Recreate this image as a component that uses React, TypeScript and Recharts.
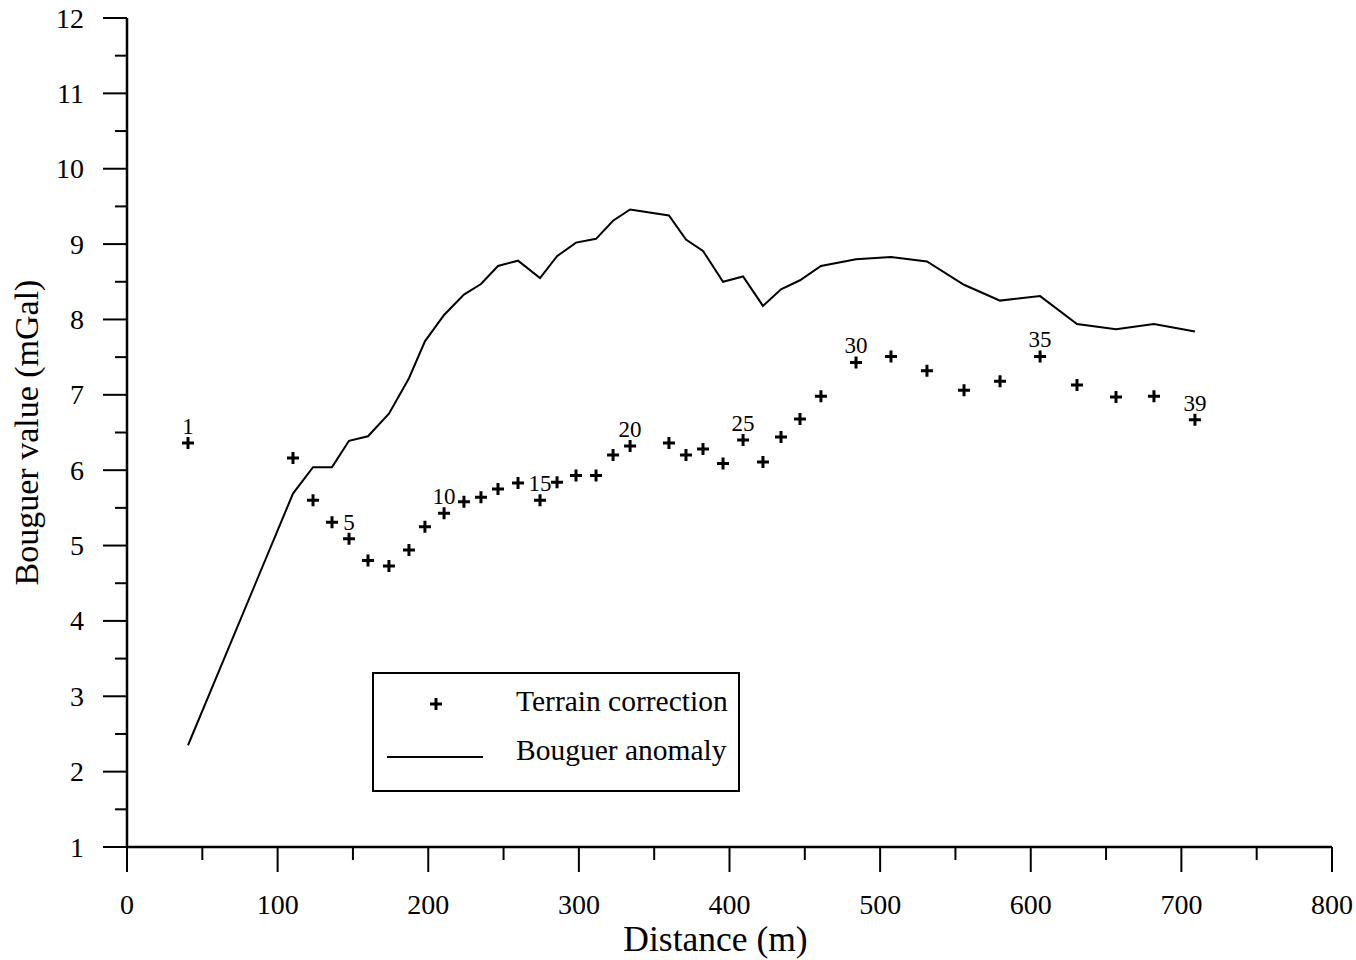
import { ComposedChart, Legend, Line, Scatter, XAxis, YAxis } from "recharts";

// station distances (m) and values (mGal)
const distance = [
  40.5, 110.2, 123.5, 136.1, 147.4, 160.0, 173.9, 187.2, 197.8, 210.5,
  223.7, 235.0, 246.3, 259.6, 274.2, 285.5, 298.1, 311.4, 322.7, 334.0,
  359.8, 371.1, 382.4, 395.7, 409.0, 422.2, 434.2, 446.8, 460.7, 484.0,
  507.2, 531.1, 555.7, 579.6, 606.2, 630.7, 656.6, 681.8, 709.0,
];
const terrainCorrection = [
  6.36, 6.16, 5.6, 5.31, 5.09, 4.8, 4.73, 4.94, 5.25, 5.43,
  5.58, 5.64, 5.75, 5.83, 5.6, 5.84, 5.93, 5.93, 6.2, 6.32,
  6.36, 6.2, 6.28, 6.09, 6.4, 6.11, 6.44, 6.68, 6.98, 7.43,
  7.51, 7.32, 7.06, 7.18, 7.51, 7.13, 6.97, 6.98, 6.67,
];
const bouguerAnomaly = [
  2.35, 5.69, 6.04, 6.04, 6.39, 6.45, 6.75, 7.22, 7.71, 8.06,
  8.33, 8.47, 8.71, 8.78, 8.55, 8.84, 9.02, 9.07, 9.31, 9.46,
  9.38, 9.06, 8.91, 8.5, 8.57, 8.18, 8.4, 8.52, 8.71, 8.8,
  8.83, 8.77, 8.46, 8.25, 8.31, 7.94, 7.87, 7.94, 7.84,
];
const labelledStations = [1, 5, 10, 15, 20, 25, 30, 35, 39];

const xTicks = [0, 50, 100, 150, 200, 250, 300, 350, 400, 450, 500, 550, 600, 650, 700, 750, 800];
const yTicks = [1, 1.5, 2, 2.5, 3, 3.5, 4, 4.5, 5, 5.5, 6, 6.5, 7, 7.5, 8, 8.5, 9, 9.5, 10, 10.5, 11, 11.5, 12];

const rows = distance.map((x, i) => ({
  x,
  tc: terrainCorrection[i],
  ba: bouguerAnomaly[i],
  station: i + 1,
}));

const FONT = '"Liberation Serif", "Times New Roman", serif';
const serif = { fontFamily: FONT };

const XTick = (props: any) => {
  const { x, y, payload } = props;
  const major = payload.value % 100 === 0;
  return (
    <g>
      <line x1={x} x2={x} y1={y} y2={y + (major ? 25 : 13)} stroke="#000" strokeWidth={2} />
      {major && (
        <text x={x} y={y + 67} textAnchor="middle" fontSize={28} fontFamily={FONT} style={serif} fill="#000">
          {payload.value}
        </text>
      )}
    </g>
  );
};

const YTick = (props: any) => {
  const { x, y, payload } = props;
  const major = Number.isInteger(payload.value);
  return (
    <g>
      <line x1={x} x2={x - (major ? 24 : 12)} y1={y} y2={y} stroke="#000" strokeWidth={2} />
      {major && (
        <text x={x - 43} y={y + 9.5} textAnchor="end" fontSize={28} fontFamily={FONT} style={serif} fill="#000">
          {payload.value}
        </text>
      )}
    </g>
  );
};

const cross = (cx: number, cy: number) =>
  `M${cx - 6},${cy}H${cx + 6}M${cx},${cy - 6}V${cy + 6}`;

const StationMark = (props: any) => {
  const { cx, cy, payload } = props;
  const showLabel = labelledStations.includes(payload.station);
  return (
    <g>
      <path d={cross(cx, cy)} stroke="#000" strokeWidth={3} fill="none" />
      {showLabel && (
        <text x={cx} y={cy - 9} textAnchor="middle" fontSize={23} fontFamily={FONT} style={serif} fill="#000">
          {payload.station}
        </text>
      )}
    </g>
  );
};

const LegendBox = () => (
  <svg width={368} height={120} style={{ display: "block" }}>
    <rect x={1} y={1} width={366} height={118} fill="#fff" stroke="#000" strokeWidth={2} />
    <path d={cross(64, 32)} stroke="#000" strokeWidth={3} />
    <text x={144} y={39} fontSize={29.5} fontFamily={FONT} style={serif}>
      Terrain correction
    </text>
    <line x1={15} x2={111} y1={85} y2={85} stroke="#000" strokeWidth={2} />
    <text x={144} y={88} fontSize={29.5} fontFamily={FONT} style={serif}>
      Bouguer anomaly
    </text>
  </svg>
);

export default function App() {
  return (
    <div style={{ position: "absolute", left: 0, top: 0, background: "#fff" }}>
      <ComposedChart
        width={1356}
        height={960}
        data={rows}
        margin={{ top: 18, right: 24, left: 67, bottom: 53 }}
      >
        <XAxis
          dataKey="x"
          type="number"
          domain={[0, 800]}
          ticks={xTicks}
          interval={0}
          tickSize={0}
          tickMargin={0}
          tickLine={false}
          tick={<XTick />}
          height={60}
          axisLine={{ stroke: "#000", strokeWidth: 2.5 }}
          label={{
            content: (p: any) => {
              const vb = p.viewBox || { x: 127, y: 847, width: 1205 };
              return (
                <text
                  x={vb.x + vb.width / 2 - 14}
                  y={vb.y + 104}
                  textAnchor="middle"
                  fontSize={35.5}
                  fontFamily={FONT}
                  style={serif}
                  fill="#000"
                >
                  Distance (m)
                </text>
              );
            },
          }}
        />
        <YAxis
          type="number"
          domain={[1, 12]}
          ticks={yTicks}
          interval={0}
          tickSize={0}
          tickMargin={0}
          tickLine={false}
          tick={<YTick />}
          width={60}
          axisLine={{ stroke: "#000", strokeWidth: 2.5 }}
          label={{
            content: (p: any) => {
              const vb = p.viewBox || { x: 67, y: 18, height: 829 };
              const cx = vb.x - 29.5;
              const cy = vb.y + vb.height / 2;
              return (
                <text
                  x={cx}
                  y={cy}
                  transform={`rotate(-90 ${cx} ${cy})`}
                  textAnchor="middle"
                  fontSize={34}
                  fontFamily={FONT}
                  style={serif}
                  fill="#000"
                >
                  Bouguer value (mGal)
                </text>
              );
            },
          }}
        />
        <Legend
          layout="vertical"
          align="center"
          verticalAlign="middle"
          content={<LegendBox />}
          wrapperStyle={{ left: 372, top: 672, width: 368, height: 120 }}
        />
        <Line
          dataKey="ba"
          type="linear"
          stroke="#000"
          strokeWidth={2}
          dot={false}
          isAnimationActive={false}
        />
        <Scatter dataKey="tc" data={rows} shape={<StationMark />} isAnimationActive={false} />
      </ComposedChart>
    </div>
  );
}
